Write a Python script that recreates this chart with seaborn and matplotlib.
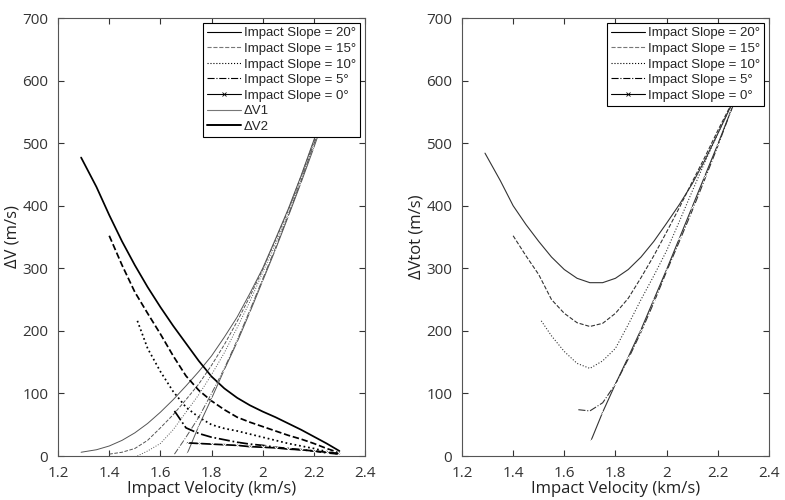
import matplotlib
matplotlib.use("Agg")
import matplotlib.pyplot as plt
from matplotlib.lines import Line2D
import seaborn as sns

# values (km/s, m/s)
x_20 = [1.29, 1.35, 1.4, 1.45, 1.5, 1.55, 1.6, 1.65, 1.7, 1.75, 1.8, 1.85, 1.9, 1.95, 2.0, 2.05, 2.1, 2.15, 2.2, 2.25, 2.3]
dv1_20 = [6, 10, 16, 25, 37, 52, 70, 90, 112, 135, 160, 190, 222, 260, 300, 347, 395, 448, 505, 562, 622]
dv2_20 = [477, 430, 385, 343, 305, 270, 238, 208, 180, 152, 127, 108, 93, 81, 71, 62, 52, 42, 31, 20, 8]
tot_20 = [484, 440, 400, 370, 343, 318, 298, 284, 277, 277, 284, 298, 318, 343, 372, 402, 435, 473, 515, 558, 600]

x_15 = [1.4, 1.45, 1.5, 1.55, 1.6, 1.65, 1.7, 1.75, 1.8, 1.85, 1.9, 1.95, 2.0, 2.05, 2.1, 2.15, 2.2, 2.25, 2.3]
dv1_15 = [3, 6, 12, 25, 45, 66, 90, 115, 145, 178, 215, 255, 298, 345, 393, 447, 503, 560, 620]
dv2_15 = [352, 305, 262, 228, 195, 160, 128, 105, 88, 74, 62, 54, 47, 40, 33, 27, 20, 12, 5]
tot_15 = [352, 320, 290, 250, 228, 213, 207, 212, 228, 252, 285, 320, 358, 397, 438, 478, 520, 560, 603]

x_10 = [1.51, 1.55, 1.6, 1.65, 1.7, 1.75, 1.8, 1.85, 1.9, 1.95, 2.0, 2.05, 2.1, 2.15, 2.2, 2.25, 2.3]
dv1_10 = [0, 8, 20, 42, 70, 98, 130, 165, 205, 247, 293, 340, 390, 443, 500, 558, 618]
dv2_10 = [216, 172, 135, 103, 78, 62, 50, 44, 40, 35, 30, 25, 20, 16, 12, 7, 3]
tot_10 = [216, 192, 167, 148, 140, 152, 172, 210, 250, 288, 328, 375, 423, 470, 515, 558, 602]

x_5 = [1.655, 1.7, 1.75, 1.8, 1.85, 1.9, 1.95, 2.0, 2.05, 2.1, 2.15, 2.2, 2.25, 2.3]
dv1_5 = [3, 30, 62, 100, 140, 185, 233, 283, 333, 385, 440, 498, 555, 617]
dv2_5 = [72, 45, 36, 30, 26, 22, 19, 17, 14, 12, 10, 8, 5, 3]
tot_5 = [74, 72, 85, 115, 155, 198, 245, 295, 343, 392, 443, 495, 550, 600]

x_0 = [1.705, 1.75, 1.8, 1.85, 1.9, 1.95, 2.0, 2.05, 2.1, 2.15, 2.2, 2.25, 2.3]
dv1_0 = [4, 48, 92, 138, 182, 230, 280, 330, 383, 437, 493, 552, 612]
dv2_0 = [21, 20, 19, 18, 17, 15, 14, 13, 11, 10, 8, 6, 4]
tot_0 = [25, 70, 115, 158, 202, 250, 298, 348, 398, 448, 498, 550, 600]

slope_labels = ["Impact Slope = 20°", "Impact Slope = 15°", "Impact Slope = 10°",
                "Impact Slope = 5°", "Impact Slope = 0°"]
series = [
    (x_20, dv1_20, dv2_20, tot_20),
    (x_15, dv1_15, dv2_15, tot_15),
    (x_10, dv1_10, dv2_10, tot_10),
    (x_5, dv1_5, dv2_5, tot_5),
    (x_0, dv1_0, dv2_0, tot_0),
]
styles = ["-", "--", ":", "-.", "-"]
markers = [None, None, None, None, "x"]
legend_colors = ["black", "#777777", "black", "black", "black"]

sns.set_style("white")
plt.rcParams["font.family"] = ["Open Sans", "DejaVu Sans"]
plt.rcParams.update({
    "xtick.direction": "in", "ytick.direction": "in",
    "xtick.top": True, "ytick.right": True,
    "xtick.major.size": 4, "ytick.major.size": 4,
    "xtick.bottom": True, "ytick.left": True,
    "axes.edgecolor": "#555555", "axes.linewidth": 0.8,
    "xtick.color": "#333333", "ytick.color": "#333333",
    "xtick.labelsize": 11, "ytick.labelsize": 11,
})

fig = plt.figure(figsize=(7.85, 5.0), dpi=100)
ax1 = fig.add_axes([0.074, 0.088, 0.391, 0.876])
ax2 = fig.add_axes([0.5885, 0.088, 0.391, 0.876])

for (x, dv1, dv2, tot), ls, mk in zip(series, styles, markers):
    sns.lineplot(x=x, y=dv1, ax=ax1, color="#555555", linewidth=0.7, linestyle=ls,
                 marker=mk, markersize=2.5, markeredgewidth=0.5)
    sns.lineplot(x=x, y=dv2, ax=ax1, color="black", linewidth=1.25, linestyle=ls,
                 marker=mk, markersize=2.5, markeredgewidth=0.7)
    sns.lineplot(x=x, y=tot, ax=ax2, color="#333333", linewidth=0.8, linestyle=ls,
                 marker=mk, markersize=2.5, markeredgewidth=0.5)

xticks = [1.2, 1.4, 1.6, 1.8, 2.0, 2.2, 2.4]
xticklabels = ["1.2", "1.4", "1.6", "1.8", "2", "2.2", "2.4"]
for ax in (ax1, ax2):
    ax.set_xlim(1.2, 2.4)
    ax.set_ylim(0, 700)
    ax.set_xticks(xticks)
    ax.set_xticklabels(xticklabels)
    ax.set_yticks(range(0, 701, 100))
    ax.set_xlabel("Impact Velocity (km/s)", fontsize=12, labelpad=0.5, color="#222222")
    ax.tick_params(axis="x", pad=7)
    ax.tick_params(axis="y", pad=7)
ax1.set_ylabel("ΔV (m/s)", fontsize=12, labelpad=1, color="#222222")
ax2.set_ylabel("ΔVtot (m/s)", fontsize=12, labelpad=1, color="#222222")

slope_handles = [Line2D([], [], color=c, linestyle=ls, marker=mk, markersize=3,
                        linewidth=0.8, markeredgewidth=0.6)
                 for c, ls, mk in zip(legend_colors, styles, markers)]
extra_handles = [Line2D([], [], color="#777777", linewidth=0.8),
                 Line2D([], [], color="black", linewidth=1.4)]

leg_font = {"family": ["Liberation Sans Narrow", "Liberation Sans", "DejaVu Sans"], "size": 9.5}
leg_kw = dict(loc="upper right", frameon=True, fancybox=False, framealpha=1,
              edgecolor="black", borderpad=0.3, labelspacing=0.25,
              handlelength=2.6, handletextpad=0.2, borderaxespad=0.4, prop=leg_font)
l1 = ax1.legend(slope_handles + extra_handles, slope_labels + ["ΔV1", "ΔV2"], **leg_kw)
l2 = ax2.legend(slope_handles, slope_labels, **leg_kw)
for leg in (l1, l2):
    leg.get_frame().set_linewidth(0.8)

fig.savefig("out.png", dpi=100)
